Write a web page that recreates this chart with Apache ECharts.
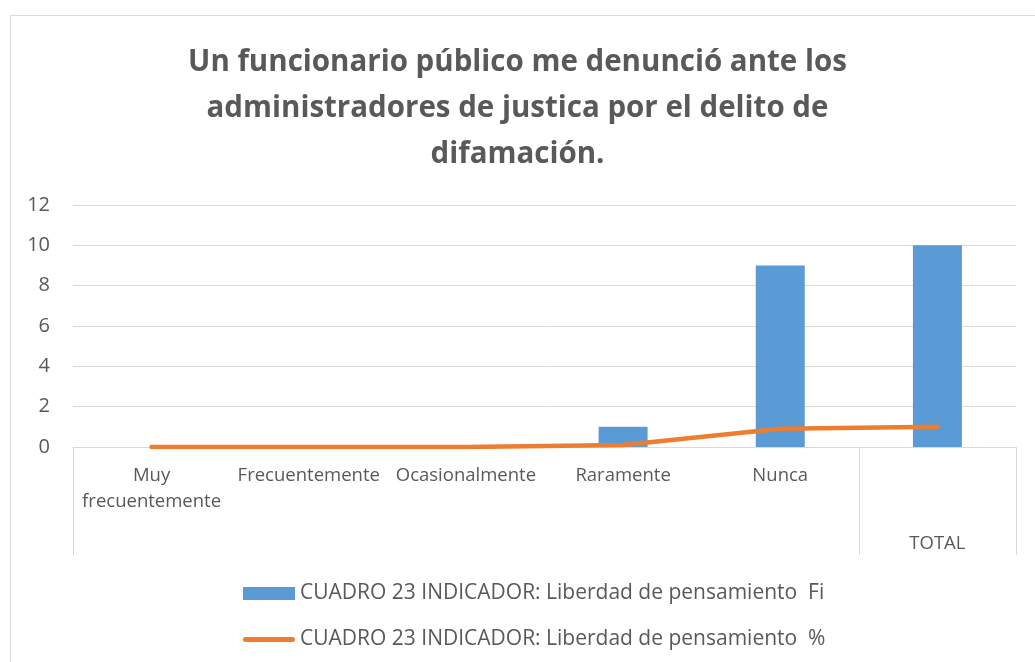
<!DOCTYPE html>
<html>
<head>
<meta charset="utf-8">
<script src="https://cdn.jsdelivr.net/npm/echarts@6/dist/echarts.min.js"></script>
<style>
  html, body { margin: 0; padding: 0; background: #fff; }
  #frame { position: absolute; left: 10px; top: 15px; width: 1040px; height: 660px; border: 1px solid #d9d9d9; box-sizing: border-box; }
  #chart { position: absolute; left: 0; top: 0; width: 1035px; height: 662px; }
</style>
</head>
<body>
<div id="frame"></div>
<div id="chart"></div>
<script>
// datos del cuadro
const categories = ['Muy\nfrecuentemente', 'Frecuentemente', 'Ocasionalmente', 'Raramente', 'Nunca', 'TOTAL'];
const fiValues = [0, 0, 0, 1, 9, 10];
const pctValues = [0, 0, 0, 0.1, 0.9, 1];
const yTicks = { min: 0, max: 12, interval: 2 };
const seriesNames = [
  'CUADRO 23 INDICADOR: Liberdad de pensamiento  Fi',
  'CUADRO 23 INDICADOR: Liberdad de pensamiento  %'
];

const fontFamily = '"Open Sans", "Noto Sans", sans-serif';
const textColor = '#595959';

// linea gruesa con extremos redondeados para la leyenda
const lineIcon = 'path://M0,0 L0.01,0 Z M2.5,4 L49.5,4 A2.5,2.5 0 0 1 49.5,9 L2.5,9 A2.5,2.5 0 0 1 2.5,4 Z M0,13 L0.01,13 Z';

const chart = echarts.init(document.getElementById('chart'), null, { renderer: 'canvas' });

chart.setOption({
  animation: false,
  backgroundColor: 'transparent',
  title: {
    text: 'Un funcionario público me denunció ante los\nadministradores de justica por el delito de\ndifamación.',
    left: 'center',
    top: 35,
    textStyle: {
      fontFamily: fontFamily,
      fontSize: 29.5,
      fontWeight: 'bold',
      color: textColor,
      lineHeight: 46
    }
  },
  grid: { left: 73, right: 19, top: 205, bottom: 215, containLabel: false },
  legend: {
    orient: 'vertical',
    left: 243,
    top: 583,
    padding: 0,
    itemGap: 25,
    itemWidth: 52,
    itemHeight: 13,
    textStyle: { fontFamily: fontFamily, fontSize: 21, color: textColor },
    data: [
      { name: seriesNames[0], icon: 'rect' },
      { name: seriesNames[1], icon: lineIcon }
    ]
  },
  xAxis: {
    type: 'category',
    data: categories,
    boundaryGap: true,
    axisLine: { lineStyle: { color: '#d9d9d9', width: 1 } },
    axisTick: {
      show: true,
      length: 108,
      lineStyle: { color: '#d9d9d9' },
      interval: (index) => index === 0 || index === 5
    },
    axisLabel: {
      interval: 0,
      margin: 16,
      fontFamily: fontFamily,
      fontSize: 18.5,
      lineHeight: 26,
      color: textColor,
      formatter: (v) => v === 'TOTAL' ? '{t|\n\n\nTOTAL}' : v,
      rich: {
        t: { fontFamily: fontFamily, fontSize: 18.5, lineHeight: 23, color: textColor }
      }
    }
  },
  yAxis: {
    type: 'value',
    min: yTicks.min,
    max: yTicks.max,
    interval: yTicks.interval,
    axisLine: { show: false },
    axisTick: { show: false },
    splitLine: { lineStyle: { color: '#d9d9d9', width: 1 } },
    axisLabel: { margin: 23, fontFamily: fontFamily, fontSize: 20, color: textColor }
  },
  series: [
    {
      name: seriesNames[0],
      type: 'bar',
      data: fiValues,
      barWidth: 49,
      itemStyle: { color: '#5B9BD5' }
    },
    {
      name: seriesNames[1],
      type: 'line',
      data: pctValues,
      symbol: 'none',
      lineStyle: { color: '#ED7D31', width: 4.5, cap: 'round', join: 'round' },
      itemStyle: { color: '#ED7D31' }
    }
  ]
});
</script>
</body>
</html>
